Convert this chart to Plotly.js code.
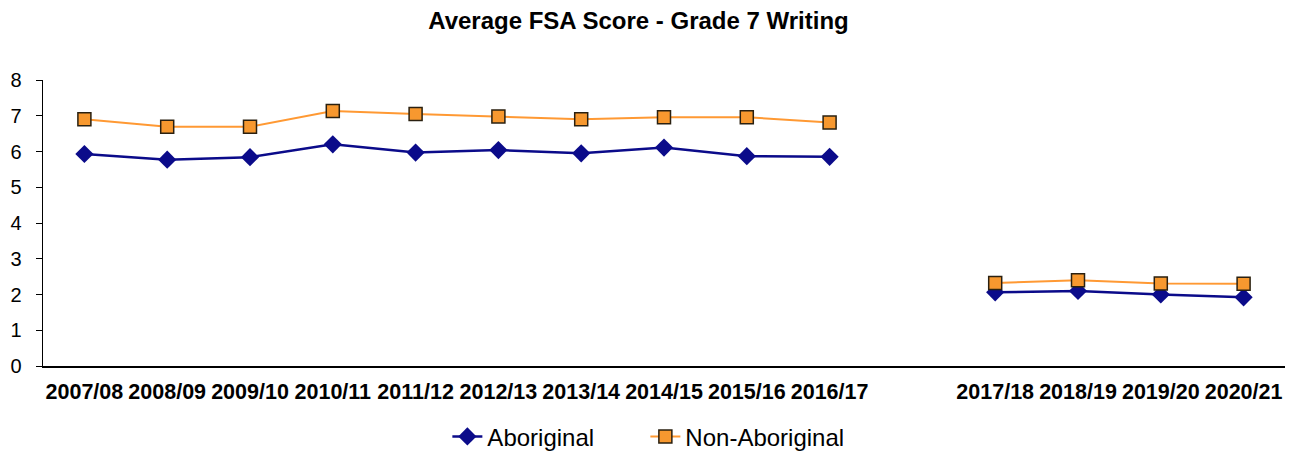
<!DOCTYPE html>
<html>
<head>
<meta charset="utf-8">
<script src="https://cdn.plot.ly/plotly-3.0.1.min.js"></script>
<style>html,body{margin:0;padding:0;background:#fff;}#chart{width:1303px;height:455px;}</style>
</head>
<body>
<div id="chart"></div>
<script>
const categories = ["2007/08","2008/09","2009/10","2010/11","2011/12","2012/13","2013/14","2014/15","2015/16","2016/17"," ","2017/18","2018/19","2019/20","2020/21"];
const aboriginal = [5.93,5.77,5.84,6.2,5.97,6.04,5.95,6.11,5.87,5.85,null,2.06,2.1,2.0,1.92];
const nonAboriginal = [6.9,6.69,6.69,7.13,7.05,6.98,6.9,6.96,6.96,6.81,null,2.32,2.4,2.31,2.3];
const yTicks = [0,1,2,3,4,5,6,7,8];

const traces = [
  {x: categories, y: aboriginal, name: "Aboriginal", type: "scatter", mode: "lines+markers",
   line: {color: "#0b0b8a", width: 2.5},
   marker: {symbol: "diamond", size: 14, color: "#0b0b8a"}},
  {x: categories, y: nonAboriginal, name: "Non-Aboriginal", type: "scatter", mode: "lines+markers",
   line: {color: "#ff9933", width: 2},
   marker: {symbol: "square", size: 13, color: "#f7982f", line: {color: "#2a2010", width: 1.5}}}
];

const layout = {
  width: 1303, height: 455,
  margin: {l: 43, r: 18, t: 80, b: 89, autoexpand: false},
  paper_bgcolor: "#fff", plot_bgcolor: "#fff",
  font: {family: "Liberation Sans, Arial, sans-serif", color: "#000"},
  title: {text: "<b>Average FSA Score - Grade 7 Writing</b>", font: {size: 24, color: "#000"}, x: 0.49, xanchor: "center", y: 0.955, yanchor: "middle"},
  showlegend: true,
  legend: {orientation: "h", x: 0.485, xanchor: "center", yref: "container", y: 0.04, yanchor: "middle",
    font: {size: 24, color: "#000"}, tracegroupgap: 0, entrywidth: 153, entrywidthmode: "pixels"},
  xaxis: {type: "category", categoryorder: "array", categoryarray: categories, automargin: false,
    range: [-0.5, 14.5], showgrid: false, zeroline: false, showline: true, linecolor: "#000", linewidth: 1.5,
    ticks: "", ticklabelstandoff: 6, tickfont: {size: 21.5, color: "#000", family: "Liberation Sans, Arial, sans-serif", weight: "bold"}, fixedrange: true},
  yaxis: {range: [0, 8], tickvals: yTicks, showgrid: false, zeroline: false, showline: true, linecolor: "#000", linewidth: 1.5, automargin: false,
    ticks: "outside", ticklen: 6, tickcolor: "#000", tickfont: {size: 20, color: "#000"}, ticklabelstandoff: 10}
};

Plotly.newPlot("chart", traces, layout, {displayModeBar: false, staticPlot: true});
</script>
</body>
</html>
